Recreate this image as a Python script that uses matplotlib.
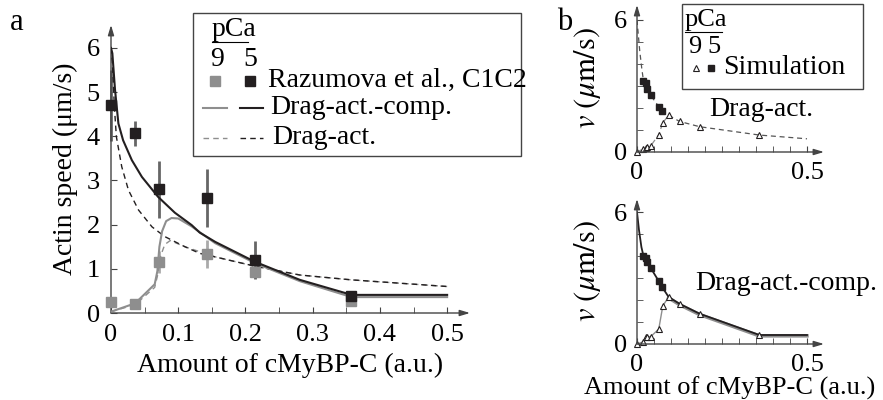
import numpy as np
import matplotlib
matplotlib.use("Agg")
import matplotlib.pyplot as plt
from matplotlib.lines import Line2D
from matplotlib.patches import Rectangle

plt.rcParams['font.family'] = ['Liberation Serif', 'DejaVu Serif']
plt.rcParams['mathtext.fontset'] = 'stix'

# ---- panel a: experiment (Razumova et al., C1C2) ----
x_exp = [0.0, 0.036, 0.071, 0.143, 0.214, 0.357]
v5_exp = [4.7, 4.07, 2.8, 2.6, 1.2, 0.38]
v5_err = [0.8, 0.28, 0.65, 0.65, 0.43, 0.05]
v9_exp = [0.25, 0.2, 1.15, 1.33, 0.93, 0.27]
v9_err = [0.05, 0.05, 0.25, 0.32, 0.13, 0.1]

# ---- panel a: model curves ----
x_comp5 = [0, 0.002, 0.006, 0.011, 0.018, 0.031, 0.046, 0.07, 0.095, 0.12, 0.132, 0.155, 0.214, 0.281, 0.358, 0.5]
v_comp5 = [6.0, 5.88, 5.05, 4.29, 3.91, 3.46, 3.08, 2.63, 2.27, 1.99, 1.82, 1.61, 1.16, 0.75, 0.41, 0.41]
x_comp9 = [0, 0.036, 0.065, 0.069, 0.072, 0.076, 0.082, 0.09, 0.1, 0.12, 0.155, 0.214, 0.281, 0.358, 0.5]
v_comp9 = [0.03, 0.22, 0.65, 0.95, 1.5, 1.85, 2.08, 2.15, 2.14, 1.96, 1.58, 1.13, 0.72, 0.36, 0.36]
x_drag5 = [0, 0.002, 0.005, 0.008, 0.016, 0.026, 0.041, 0.061, 0.08, 0.11, 0.132, 0.155, 0.214, 0.281, 0.358, 0.5]
v_drag5 = [6.0, 5.7, 4.67, 3.99, 3.31, 2.78, 2.33, 1.95, 1.73, 1.5, 1.35, 1.27, 1.06, 0.86, 0.75, 0.6]
x_drag9 = [0, 0.036, 0.065, 0.07, 0.074, 0.08, 0.088, 0.11, 0.155, 0.214, 0.281, 0.358, 0.5]
v_drag9 = [0.03, 0.19, 0.58, 0.9, 1.3, 1.55, 1.64, 1.5, 1.27, 1.06, 0.86, 0.75, 0.6]

# ---- panel b: simulation ----
x_sim5 = [0.019, 0.025, 0.030, 0.040, 0.064, 0.074]
x_sim9 = [0.0, 0.019, 0.025, 0.030, 0.040, 0.064, 0.076, 0.093, 0.125, 0.184, 0.36]
drag_sim5 = [3.24, 3.15, 2.85, 2.58, 2.06, 1.88]
drag_sim9 = [0.0, 0.15, 0.2, 0.21, 0.27, 0.79, 1.33, 1.67, 1.39, 1.15, 0.77]
comp_sim5 = [4.01, 3.92, 3.71, 3.47, 2.86, 2.59]
comp_sim9 = [0.0, 0.1, 0.3, 0.33, 0.33, 0.68, 1.74, 2.14, 1.83, 1.38, 0.41]

x_bdrag = [0, 0.008, 0.014, 0.019, 0.025, 0.03, 0.04, 0.064, 0.074, 0.093, 0.125, 0.184, 0.36, 0.5]
v_bdrag = [6.0, 4.6, 3.8, 3.24, 3.15, 2.85, 2.58, 2.06, 1.88, 1.67, 1.39, 1.15, 0.77, 0.6]
x_bcomp = [0, 0.006, 0.013, 0.019, 0.025, 0.03, 0.04, 0.064, 0.074, 0.093, 0.125, 0.184, 0.36, 0.5]
v_bcomp = [6.0, 5.17, 4.41, 4.01, 3.92, 3.71, 3.47, 2.86, 2.59, 2.14, 1.83, 1.38, 0.41, 0.41]

BLACK = '#231f20'
GRAY = '#8e8e8e'
AXC = '#444444'
FS = 20
TFS = 19

W, H = 883, 400
fig = plt.figure(figsize=(W / 100, H / 100), dpi=100)


def fx(px):
    return px / W


def fy(py):
    return 1 - py / H


def arrow_axes(ax):
    for s in ax.spines.values():
        s.set_visible(False)
    kw = dict(arrowstyle='-|>,head_length=0.6,head_width=0.18', color=AXC, lw=1.0,
              shrinkA=0, shrinkB=0)
    ax.annotate('', xy=(1, 0), xytext=(0, 0), xycoords='axes fraction', arrowprops=kw)
    ax.annotate('', xy=(0, 1), xytext=(0, 0), xycoords='axes fraction', arrowprops=kw)


# ================= panel a =================
axa = fig.add_axes([fx(111), fy(313), fx(470) - fx(111), fy(25) - fy(313)])
axa.set_xlim(0, 0.534)
axa.set_ylim(0, 6.52)
arrow_axes(axa)

axa.errorbar(x_exp, v9_exp, yerr=v9_err, fmt='none', ecolor='#aaaaaa', elinewidth=2, clip_on=False, zorder=2)
axa.errorbar(x_exp, v5_exp, yerr=v5_err, fmt='none', ecolor='#666666', elinewidth=2, clip_on=False, zorder=2)
axa.plot(x_drag9, v_drag9, '--', color=GRAY, lw=1.0, dashes=(4, 3), zorder=3)
axa.plot(x_drag5, v_drag5, '--', color=BLACK, lw=1.0, dashes=(4, 3), zorder=3)
axa.plot(x_comp9, v_comp9, '-', color=GRAY, lw=1.5, zorder=3)
axa.plot(x_comp5, v_comp5, '-', color=BLACK, lw=1.5, zorder=4)
axa.plot(x_exp, v9_exp, 's', color=GRAY, ms=7.5, clip_on=False, zorder=5)
axa.plot(x_exp, v5_exp, 's', color=BLACK, ms=7.5, clip_on=False, zorder=5)

axa.set_xticks([0, 0.1, 0.2, 0.3, 0.4, 0.5])
axa.set_xticklabels(['0', '0.1', '0.2', '0.3', '0.4', '0.5'])
axa.set_xticks(np.arange(0.05, 0.5, 0.1), minor=True)
axa.set_yticks(range(7))
axa.tick_params(which='both', direction='in', length=4, color=AXC, labelsize=TFS, pad=8)
axa.set_xlabel('Amount of cMyBP-C (a.u.)', fontsize=FS, labelpad=5)
axa.set_ylabel('Actin speed (μm/s)', fontsize=FS, labelpad=6)

# legend a
fig.patches.append(Rectangle((fx(193), fy(156)), fx(521) - fx(193), fy(13) - fy(156),
                             transform=fig.transFigure, fill=False, ec=AXC, lw=1.0))
fig.text(fx(212), fy(30), 'pCa', fontsize=FS, va='center', ha='left')
fig.add_artist(Line2D([fx(212), fx(248)], [fy(42), fy(42)], color='k', lw=0.8))
fig.text(fx(217), fy(60), '9', fontsize=FS, va='center', ha='center')
fig.text(fx(250), fy(60), '5', fontsize=FS, va='center', ha='center')
fig.add_artist(Line2D([fx(215)], [fy(81)], marker='s', ms=7.5, color=GRAY, ls='none'))
fig.add_artist(Line2D([fx(250)], [fy(81)], marker='s', ms=7.5, color=BLACK, ls='none'))
fig.text(fx(268), fy(80), 'Razumova et al., C1C2', fontsize=FS, va='center', ha='left')
fig.add_artist(Line2D([fx(203), fx(227)], [fy(108), fy(108)], color=GRAY, lw=1.5))
fig.add_artist(Line2D([fx(240), fx(263)], [fy(108), fy(108)], color=BLACK, lw=1.5))
fig.text(fx(270), fy(108), 'Drag-act.-comp.', fontsize=FS, va='center', ha='left')
fig.add_artist(Line2D([fx(203), fx(227)], [fy(138), fy(138)], color=GRAY, lw=1.0, ls='--', dashes=(4, 3)))
fig.add_artist(Line2D([fx(240), fx(263)], [fy(138), fy(138)], color=BLACK, lw=1.0, ls='--', dashes=(4, 3)))
fig.text(fx(272), fy(138), 'Drag-act.', fontsize=FS, va='center', ha='left')

fig.text(fx(17), fy(22), 'a', fontsize=22, va='center', ha='center')
fig.text(fx(565), fy(22), 'b', fontsize=22, va='center', ha='center')


# ================= panel b =================
def setup_b(ax):
    ax.set_xlim(0, 0.55)
    arrow_axes(ax)
    ax.set_xticks([0, 0.5])
    ax.set_xticklabels(['0', '0.5'])
    ax.set_xticks(np.arange(0.05, 0.5, 0.05), minor=True)
    ax.set_yticks([0, 6])
    ax.set_yticks(range(1, 6), minor=True)
    ax.tick_params(which='both', direction='in', length=4, color=AXC, labelsize=TFS, pad=7)
    ax.set_ylabel(r'$v\ (\mu\mathrm{m/s})$', fontsize=22, labelpad=8)


axb1 = fig.add_axes([fx(637), fy(152), fx(824) - fx(637), fy(5) - fy(152)])
axb1.set_ylim(0, 6.68)
setup_b(axb1)
axb1.plot(x_sim9[:8], drag_sim9[:8], '--', color=GRAY, lw=0.9, dashes=(4, 3))
axb1.plot(x_bdrag, v_bdrag, '--', color='#555555', lw=0.9, dashes=(4, 3))
axb1.plot(x_sim9, drag_sim9, '^', mfc='white', mec=BLACK, ms=4.5, mew=0.8, clip_on=False, ls='none')
axb1.plot(x_sim5, drag_sim5, 's', color=BLACK, ms=3.8, clip_on=False, ls='none')
fig.text(fx(761), fy(110), 'Drag-act.', fontsize=FS, va='center', ha='center')

axb2 = fig.add_axes([fx(637), fy(344), fx(824) - fx(637), fy(199) - fy(344)])
axb2.set_ylim(0, 6.6)
setup_b(axb2)
axb2.plot(x_sim9[:8], comp_sim9[:8], '-', color=GRAY, lw=1.0)
axb2.plot(x_bcomp[9:], [v - 0.04 for v in v_bcomp[9:]], '-', color=GRAY, lw=2.5)
axb2.plot(x_bcomp, v_bcomp, '-', color=BLACK, lw=1.3)
axb2.plot(x_sim9, comp_sim9, '^', mfc='white', mec=BLACK, ms=4.5, mew=0.8, clip_on=False, ls='none')
axb2.plot(x_sim5, comp_sim5, 's', color=BLACK, ms=3.8, clip_on=False, ls='none')
fig.text(fx(730), fy(388), 'Amount of cMyBP-C (a.u.)', fontsize=TFS, va='center', ha='center')
fig.text(fx(786), fy(283), 'Drag-act.-comp.', fontsize=FS, va='center', ha='center')

# legend b
fig.patches.append(Rectangle((fx(682), fy(89)), fx(863) - fx(682), fy(4) - fy(89),
                             transform=fig.transFigure, fill=False, ec=AXC, lw=1.0))
fig.text(fx(685), fy(20), 'pCa', fontsize=TFS, va='center', ha='left')
fig.add_artist(Line2D([fx(685), fx(722)], [fy(32), fy(32)], color='k', lw=0.8))
fig.text(fx(695), fy(47), '9', fontsize=TFS, va='center', ha='center')
fig.text(fx(714), fy(47), '5', fontsize=TFS, va='center', ha='center')
fig.add_artist(Line2D([fx(696)], [fy(68)], marker='^', mfc='white', mec=BLACK, ms=4.5, mew=0.8, ls='none'))
fig.add_artist(Line2D([fx(711)], [fy(68)], marker='s', color=BLACK, ms=3.8, ls='none'))
fig.text(fx(723), fy(68), 'Simulation', fontsize=FS, va='center', ha='left')

fig.savefig('out.png', dpi=100)
